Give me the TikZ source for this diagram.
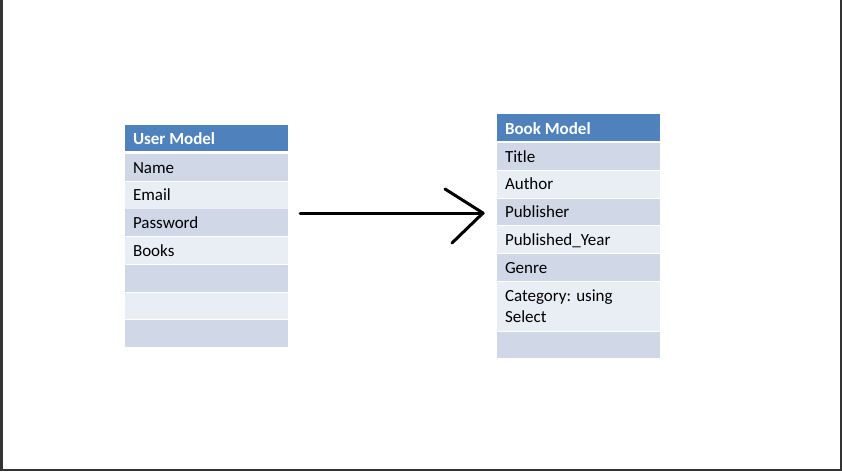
\documentclass[tikz,border=0pt]{standalone}
\usepackage{fontspec}
\setmainfont{Carlito}
\definecolor{hdr}{HTML}{4F81BD}
\definecolor{rowdark}{HTML}{D0D8E8}
\definecolor{rowlight}{HTML}{E9EDF4}
\definecolor{framegray}{HTML}{333333}
\begin{document}
\begin{tikzpicture}[x=1pt,y=-1pt,
  cell/.style={rectangle, inner sep=0pt, outer sep=0pt, anchor=north west, minimum width=163pt, minimum height=26.8pt},
  darkrow/.style={cell, fill=rowdark},
  lightrow/.style={cell, fill=rowlight},
  hdrcell/.style={cell, fill=hdr, minimum height=26.5pt},
  txt/.style={anchor=base west, inner sep=0pt, outer sep=0pt, font=\fontsize{17}{21.5}\selectfont, text=black, align=left},
  htxt/.style={txt, font=\bfseries\fontsize{17}{21.5}\selectfont, text=white},
  arr/.style={line width=3pt, line cap=round, line join=round, black}]
\useasboundingbox (0,0) rectangle (842,471);
\fill[white] (0,0) rectangle (842,471);
\fill[framegray] (0,0) rectangle (3,471);
\fill[framegray] (840,0) rectangle (841.5,471);
\fill[framegray] (0,469) rectangle (842,471);

% User Model table
\node[hdrcell] (uh) at (125,124.5) {};
\node[htxt] (uht) at ([shift={(8,20)}]uh.north west) {User Model};
\node[darkrow]  (u1) at (125,154.0) {};
\node[lightrow] (u2) at (125,181.7) {};
\node[darkrow]  (u3) at (125,209.4) {};
\node[lightrow] (u4) at (125,237.1) {};
\node[darkrow]  (u5) at (125,264.8) {};
\node[lightrow] (u6) at (125,292.5) {};
\node[darkrow]  (u7) at (125,320.2) {};
\node[txt] (u1t) at ([shift={(8,19)}]u1.north west) {Name};
\node[txt] (u2t) at ([shift={(8,19)}]u2.north west) {Email};
\node[txt] (u3t) at ([shift={(8,19)}]u3.north west) {Password};
\node[txt] (u4t) at ([shift={(8,19)}]u4.north west) {Books};

% Book Model table
\node[hdrcell] (bh) at (497,114) {};
\node[htxt] (bht) at ([shift={(8,20)}]bh.north west) {Book Model};
\node[darkrow]  (b1) at (497,143.0) {};
\node[lightrow] (b2) at (497,170.8) {};
\node[darkrow]  (b3) at (497,198.6) {};
\node[lightrow] (b4) at (497,226.4) {};
\node[darkrow]  (b5) at (497,254.2) {};
\node[lightrow, minimum height=48.5pt] (b6) at (497,282.0) {};
\node[darkrow]  (b7) at (497,331.5) {};
\node[txt] (b1t) at ([shift={(8,19)}]b1.north west) {Title};
\node[txt] (b2t) at ([shift={(8,19)}]b2.north west) {Author};
\node[txt] (b3t) at ([shift={(8,19)}]b3.north west) {Publisher};
\node[txt] (b4t) at ([shift={(8,19)}]b4.north west) {Published\_Year};
\node[txt] (b5t) at ([shift={(8,19)}]b5.north west) {Genre};
\node[txt] (b6t) at ([shift={(8,40.5)}]b6.north west) {Category: using\\Select};

% Arrow
\coordinate (tip) at ([shift={(-14,14.4)}]b3.north west);
\draw[arr] ([shift={(12,3.6)}]u3.north east) -- (tip);
\draw[arr] ([shift={(-38,-24)}]tip) -- (tip) -- ([shift={(-31,30)}]tip);
\end{tikzpicture}
\end{document}
